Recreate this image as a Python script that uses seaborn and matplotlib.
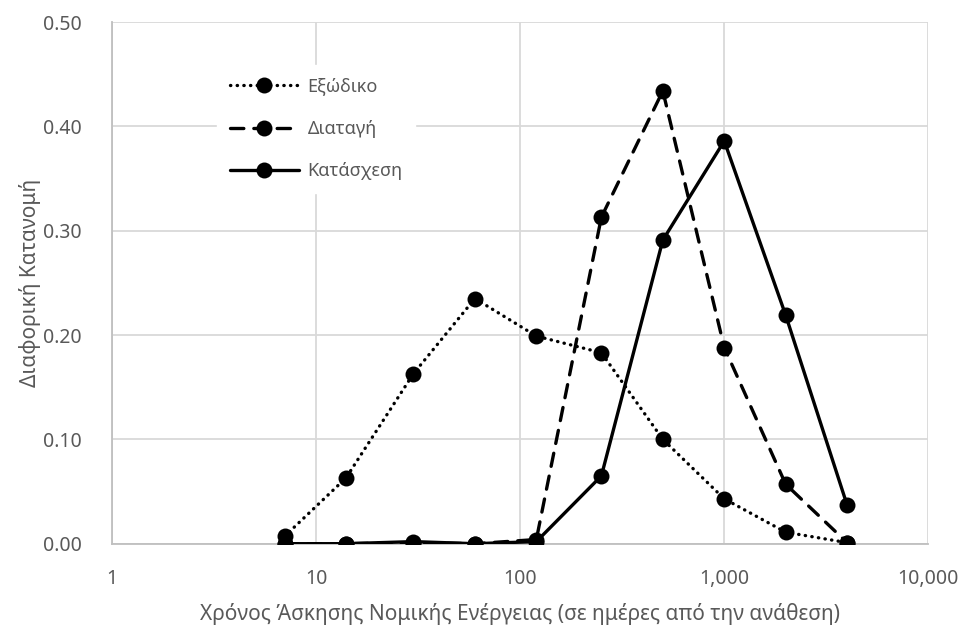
import matplotlib
matplotlib.use("Agg")
import matplotlib.pyplot as plt
import matplotlib.ticker as mticker
import seaborn as sns
import pandas as pd

days = [7, 14, 30, 60, 120, 250, 500, 1000, 2000, 4000]
exodiko = [0.007, 0.063, 0.163, 0.235, 0.199, 0.183, 0.100, 0.043, 0.011, 0.001]
diatagi = [0.000, 0.000, 0.001, 0.000, 0.004, 0.313, 0.434, 0.188, 0.057, 0.001]
kataschesi = [0.000, 0.000, 0.002, 0.000, 0.002, 0.065, 0.291, 0.386, 0.219, 0.037]
series_names = ["Εξώδικο", "Διαταγή", "Κατάσχεση"]
x_ticks = [1, 10, 100, 1000, 10000]
y_ticks = [0.0, 0.1, 0.2, 0.3, 0.4, 0.5]

rows = []
for name, vals in zip(series_names, [exodiko, diatagi, kataschesi]):
    for d, v in zip(days, vals):
        rows.append({"x": d, "y": v, "series": name})
df = pd.DataFrame(rows)

sns.set_theme(style="white")
plt.rcParams["font.family"] = ["Noto Sans", "DejaVu Sans"]
plt.rcParams["lines.dash_capstyle"] = "round"
text_col = "#595959"
grid_col = "#d9d9d9"

fig = plt.figure(figsize=(9.66, 6.30), dpi=100)
ax = fig.add_axes([0.116, 0.137, 0.845, 0.828])

sns.lineplot(data=df, x="x", y="y", hue="series", style="series",
             hue_order=series_names, style_order=series_names,
             palette=["black"] * 3,
             dashes={"Εξώδικο": (0.1, 1.9), "Διαταγή": (4, 3), "Κατάσχεση": ""},
             markers={n: "o" for n in series_names},
             markersize=11.5, linewidth=2.4, markeredgewidth=0,
             ax=ax, zorder=3)

ax.set_xscale("log")
ax.set_xlim(1, 10000)
ax.set_ylim(0, 0.5)
ax.set_xticks(x_ticks)
ax.xaxis.set_major_formatter(mticker.FuncFormatter(lambda v, p: f"{int(round(v)):,}"))
ax.xaxis.set_minor_locator(mticker.NullLocator())
ax.set_yticks(y_ticks)
ax.yaxis.set_major_formatter(mticker.FormatStrFormatter("%.2f"))

ax.grid(True, which="major", color=grid_col, linewidth=1.3, zorder=0)
ax.set_axisbelow(True)
for s in ["top", "right"]:
    ax.spines[s].set_visible(False)
ax.spines["left"].set_color("#bfbfbf")
ax.spines["bottom"].set_color("#bfbfbf")
ax.spines["left"].set_linewidth(1.3)
ax.spines["bottom"].set_linewidth(1.3)
ax.tick_params(axis="both", length=0, labelsize=14, colors=text_col)
ax.tick_params(axis="x", pad=18)
ax.tick_params(axis="y", pad=22)

ax.set_xlabel("Χρόνος Άσκησης Νομικής Ενέργειας (σε ημέρες από την ανάθεση)",
              fontsize=15, color=text_col, labelpad=10)
ax.set_ylabel("Διαφορική Κατανομή", fontsize=15, color=text_col, labelpad=1)

leg = ax.legend(loc="upper left", bbox_to_anchor=(0.118, 0.935), frameon=True,
                fontsize=13, handlelength=3.8, labelspacing=1.35,
                borderpad=0.7, handletextpad=0.5)
leg.get_frame().set_facecolor("white")
leg.get_frame().set_edgecolor("white")
leg.get_frame().set_alpha(1)
for t in leg.get_texts():
    t.set_color(text_col)

fig.savefig("out.png", dpi=100)
